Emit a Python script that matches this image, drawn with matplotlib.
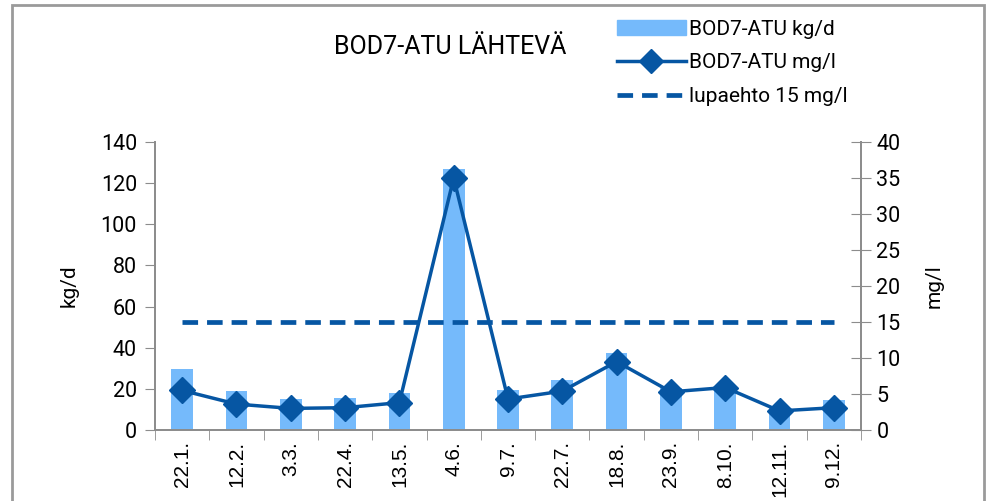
import matplotlib
matplotlib.use("Agg")
import matplotlib.pyplot as plt
from matplotlib.patches import Rectangle
from matplotlib.lines import Line2D
import numpy as np

# --- data ---
dates = ["22.1.", "12.2.", "3.3.", "22.4.", "13.5.", "4.6.", "9.7.",
         "22.7.", "18.8.", "23.9.", "8.10.", "12.11.", "9.12."]
bod_kgd = [29.6, 18.9, 15.1, 15.6, 18.2, 127.0, 19.4, 24.1, 37.6, 20.5, 21.5, 10.5, 14.8]
bod_mgl = [5.5, 3.6, 3.0, 3.1, 3.8, 35.0, 4.3, 5.4, 9.5, 5.3, 5.9, 2.65, 3.1]
limit_mgl = 15

bar_color = "#75BAFB"
line_color = "#0656A3"
axis_gray = "#8c8c8c"

plt.rcParams['font.family'] = ['Liberation Sans', 'DejaVu Sans']
narrow = ['Roboto', 'Liberation Sans', 'DejaVu Sans']

fig = plt.figure(figsize=(9.91, 5.01), dpi=100)

# outer chart frame
fig.patches.append(Rectangle((12 / 991, -0.05), 972 / 991, 1.05 - 5 / 501,
                             transform=fig.transFigure, fill=False,
                             edgecolor="#9a9a9a", lw=2, zorder=0))

ax = fig.add_axes([155 / 991, 1 - 430 / 501, 706 / 991, 288 / 501])
ax2 = ax.twinx()

x = np.arange(len(dates))
ax.bar(x, bod_kgd, width=0.4, color=bar_color, zorder=1)
ax.set_xlim(-0.5, len(dates) - 0.5)
ax.set_ylim(0, 140)
ax.set_yticks(range(0, 141, 20))
ax.set_xticks(x)
ax.set_xticklabels(dates, rotation=90, fontsize=15)
ax.set_xticks(np.arange(-0.5, len(dates)), minor=True)
ax.tick_params(axis='x', which='major', length=0, pad=8)
ax.tick_params(axis='x', which='minor', length=7, color=axis_gray, direction='out')
ax.tick_params(axis='y', length=7, color=axis_gray, direction='out', pad=6)
for t in ax.get_yticklabels():
    t.set_family(narrow)
    t.set_fontsize(15.5)
ax.set_ylabel("kg/d", fontsize=15, family=narrow, labelpad=16)

ax2.plot(x, bod_mgl, color=line_color, lw=2.5, marker='D', markersize=13, zorder=3)
ax2.plot([x[0], x[-1]], [limit_mgl, limit_mgl], color=line_color, lw=3.4,
         linestyle=(0, (3.3, 1.9)), zorder=2)
ax2.set_ylim(0, 40)
ax2.set_yticks(range(0, 41, 5))
ax2.tick_params(axis='y', length=14, color=axis_gray, direction='inout', pad=4)
for t in ax2.get_yticklabels():
    t.set_family(narrow)
    t.set_fontsize(15.5)
ax2.set_ylabel("mg/l", fontsize=15, family=narrow, labelpad=17)

for a in (ax, ax2):
    a.spines['top'].set_visible(False)
    for s in ('left', 'right', 'bottom'):
        a.spines[s].set_color(axis_gray)
        a.spines[s].set_linewidth(1.3)
    a.patch.set_visible(False)

fig.text(450 / 991, 1 - 47 / 501, "BOD7-ATU LÄHTEVÄ", fontsize=18,
         family=narrow, ha='center', va='center')

handles = [Rectangle((0, 0), 1, 1, color=bar_color),
           Line2D([], [], color=line_color, lw=2.5, marker='D', markersize=12),
           Line2D([], [], color=line_color, lw=3.4, linestyle=(0, (3.3, 1.9)))]
labels = ["BOD7-ATU kg/d", "BOD7-ATU mg/l", "lupaehto 15 mg/l"]
fig.legend(handles, labels, loc='upper left', bbox_to_anchor=(598 / 991, 1 - 1 / 501),
           frameon=False, prop={'family': narrow, 'size': 15},
           handlelength=3.3, handletextpad=0.15, labelspacing=0.7)

fig.savefig("out.png", dpi=100)
